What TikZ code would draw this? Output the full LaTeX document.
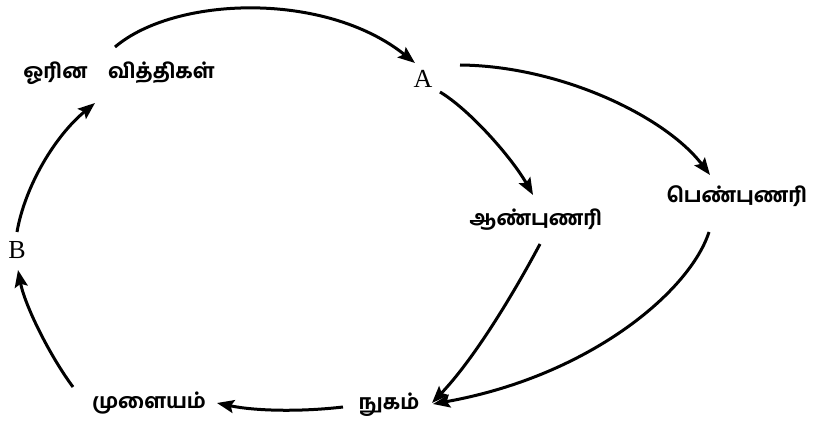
\documentclass[tikz,border=0pt]{standalone}
\usepackage{fontspec}
\setmainfont{Liberation Serif}
\newfontfamily\tam[Script=Tamil,UprightFont={* Bold}]{Hind Madurai}
\usetikzlibrary{arrows.meta,calc}
\begin{document}
\begin{tikzpicture}[x=1pt,y=1pt,
  lbl/.style={inner sep=0pt,font=\tam\fontsize{20.5}{22}\selectfont},
  ltr/.style={inner sep=0pt,font=\fontsize{26}{28}\selectfont},
  arr/.style={line width=3pt,-{Stealth[length=17pt,width=13pt,inset=3pt]}}]
\useasboundingbox (0,0) rectangle (813,426);
\node[lbl] (o) at (119,353) {ஓரின\hspace{1em}வித்திகள்};
\node[ltr] (A) at (423,347) {A};
\node[lbl] (m) at (536,206) {ஆண்புணரி};
\node[lbl] (f) at (737,230) {பெண்புணரி};
\node[lbl] (n) at (389,21) {நுகம்};
\node[lbl] (e) at (149,23) {முளையம்};
\node[ltr] (B) at (17,176) {B};
\draw[arr] ($(o)+(-4,26)$) .. controls (175,430) and (325,435) .. ($(A)+(-8,16)$);
\draw[arr] ($(A)+(17,-13)$) .. controls (470,316) and (512,268) .. ($(m)+(-3,25)$);
\draw[arr] ($(A)+(37,14)$) .. controls (560,360) and (665,310) .. ($(f)+(-27,21)$);
\draw[arr] ($(m)+(4,-24)$) .. controls (515,135) and (475,68) .. ($(n)+(43,2)$);
\draw[arr] ($(f)+(-28,-36)$) .. controls (690,135) and (590,50) .. ($(n)+(44,1)$);
\draw[arr] ($(n)+(-46,-2)$) .. controls (300,14) and (255,15) .. ($(e)+(68,0)$);
\draw[arr] ($(e)+(-76,16)$) .. controls (50,70) and (25,120) .. ($(B)+(1,-20)$);
\draw[arr] ($(B)+(0,18)$) .. controls (25,240) and (55,290) .. ($(o)+(-24,-30)$);
\end{tikzpicture}
\end{document}
